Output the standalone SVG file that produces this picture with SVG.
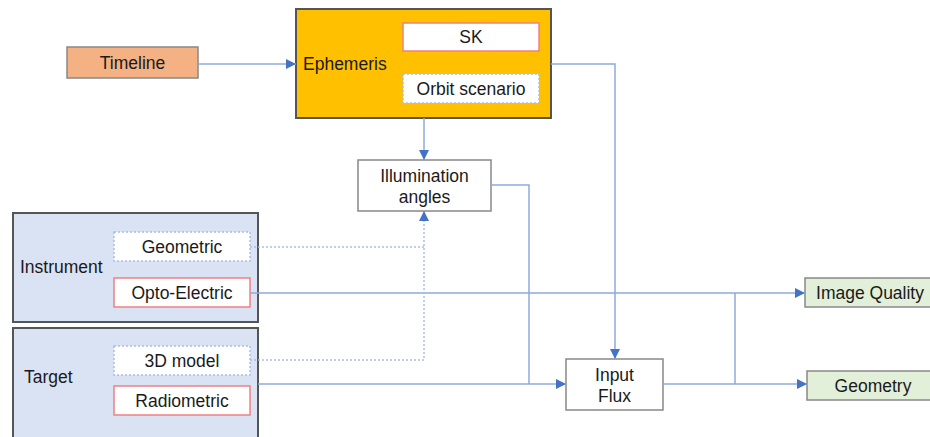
<svg xmlns="http://www.w3.org/2000/svg" width="930" height="437" viewBox="0 0 930 437">
<defs>
<marker id="ah" viewBox="0 0 10 10" refX="10" refY="5" markerWidth="10" markerHeight="10" markerUnits="userSpaceOnUse" orient="auto">
<path d="M0,0 L10,5 L0,10 z" fill="#4472c4"/>
</marker>
</defs>
<style>
text{font-family:"Liberation Sans",Arial,sans-serif;font-size:17.5px;fill:#1a1a1a}
.c{text-anchor:middle}
.grp{stroke:#555;stroke-width:2}
.box{fill:#fff;stroke:#888;stroke-width:1.5}
.red{fill:#fff;stroke:#f08080;stroke-width:1.5}
.dash{fill:#fff;stroke:#a9bfe6;stroke-width:1.5;stroke-dasharray:2 2}
.ln{fill:none;stroke:#8eaadb;stroke-width:1.5}
.dot{fill:none;stroke:#a9bfe6;stroke-width:1.5;stroke-dasharray:2 2}
.out{fill:#e2efd9;stroke:#888;stroke-width:1.5}
</style>
<g id="timeline"><rect x="67" y="47" width="131" height="31" fill="#f4b183" stroke="#888" stroke-width="1.5"/><text class="c" x="132.5" y="69">Timeline</text></g>
<g id="ephemeris"><rect class="grp" x="296" y="9" width="255" height="109" fill="#ffc000"/><text x="303" y="70">Ephemeris</text>
<g id="sk"><rect class="red" x="403" y="23" width="136" height="28"/><text class="c" x="471" y="43">SK</text></g>
<g id="orbit"><rect class="dash" x="403" y="74" width="136" height="29"/><text class="c" x="471" y="95">Orbit scenario</text></g>
</g>
<g id="illum"><rect class="box" x="358" y="160" width="133" height="51"/><text class="c" x="424.5" y="182">Illumination</text><text class="c" x="424.5" y="203">angles</text></g>
<g id="instrument"><rect class="grp" x="13" y="213" width="245" height="109" fill="#dae3f3"/><text x="20" y="273">Instrument</text>
<g id="geometric"><rect class="dash" x="114" y="232" width="136" height="29"/><text class="c" x="182" y="253">Geometric</text></g>
<g id="opto"><rect class="red" x="114" y="278" width="136" height="29"/><text class="c" x="182" y="299">Opto-Electric</text></g>
</g>
<g id="target"><rect class="grp" x="13" y="328" width="245" height="115" fill="#dae3f3"/><text x="24" y="383">Target</text>
<g id="model3d"><rect class="dash" x="114" y="346" width="136" height="29"/><text class="c" x="182" y="367">3D model</text></g>
<g id="radiometric"><rect class="red" x="114" y="386" width="136" height="29"/><text class="c" x="182" y="407">Radiometric</text></g>
</g>
<g id="inputflux"><rect class="box" x="566" y="359" width="97" height="51"/><text class="c" x="614.5" y="381">Input</text><text class="c" x="614.5" y="402">Flux</text></g>
<g id="imagequality"><rect class="out" x="805" y="278" width="135" height="29"/><text class="c" x="870" y="299">Image Quality</text></g>
<g id="geometry"><rect class="out" x="807" y="371" width="133" height="29"/><text class="c" x="873" y="392">Geometry</text></g>
<g id="connectors">
<path class="ln" d="M198,64 H296" marker-end="url(#ah)"/>
<path class="ln" d="M424,118 V160" marker-end="url(#ah)"/>
<path class="ln" d="M551,64 H615 V359" marker-end="url(#ah)"/>
<path class="ln" d="M491,185 H529 V384"/>
<path class="ln" d="M258,384 H566" marker-end="url(#ah)"/>
<path class="ln" d="M250,293 H805" marker-end="url(#ah)"/>
<path class="ln" d="M663,384 H807" marker-end="url(#ah)"/>
<path class="ln" d="M735,293 V384"/>
<path class="dot" d="M250,247 H424"/>
<path class="dot" d="M250,360 H424 V211" marker-end="url(#ah)"/>
</g>
</svg>
